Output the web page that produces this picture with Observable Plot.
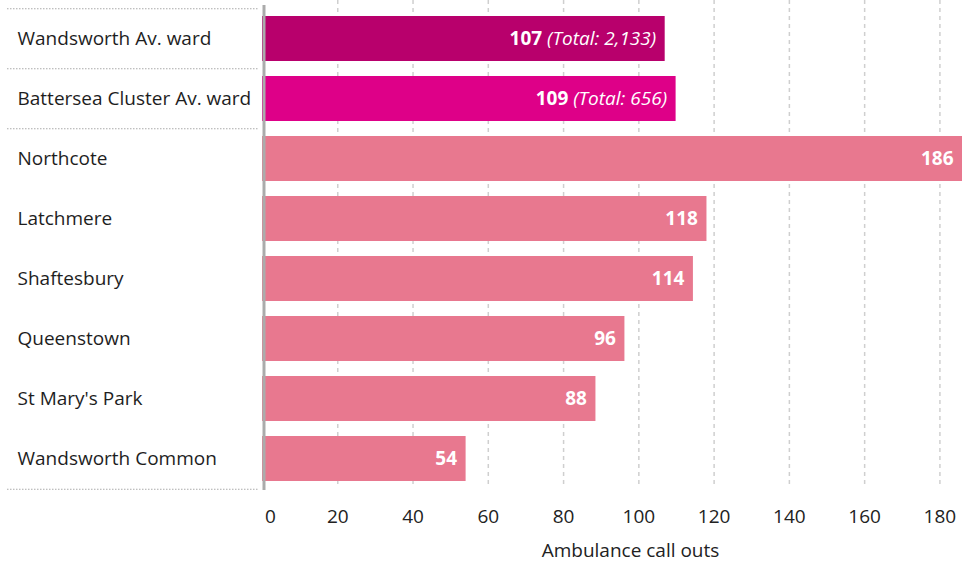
<!DOCTYPE html>
<html>
<head>
<meta charset="utf-8">
<script src="https://cdn.jsdelivr.net/npm/d3@7"></script>
<script src="https://cdn.jsdelivr.net/npm/@observablehq/plot@0.6"></script>
<style>
  html, body { margin: 0; padding: 0; background: #fff; }
  #chart svg { display: block; }
</style>
</head>
<body>
<div id="chart"></div>
<script>
const categories = ["Wandsworth Av. ward", "Battersea Cluster Av. ward", "Northcote", "Latchmere", "Shaftesbury", "Queenstown", "St Mary's Park", "Wandsworth Common"];
const values = [107.0, 109.9, 186.0, 118.1, 114.5, 96.3, 88.6, 54.1];
const shown = [107, 109, 186, 118, 114, 96, 88, 54];
const totals = [2133, 656, null, null, null, null, null, null];
const kinds = ["wandsworth", "battersea", "ward", "ward", "ward", "ward", "ward", "ward"];
const xTicks = [0, 20, 40, 60, 80, 100, 120, 140, 160, 180];
const axisTitle = "Ambulance call outs";

const data = categories.map((c, i) => ({
  name: c, value: values[i], total: totals[i], kind: kinds[i],
  label: totals[i] != null ? `${shown[i]} (Total: ${d3.format(",")(totals[i])})` : `${shown[i]}`
}));

const FONT = "'Open Sans', sans-serif";
const step = (490 - 6) / categories.length;

const chart = Plot.plot({
  width: 962,
  height: 563,
  marginLeft: 262,
  marginRight: 0,
  marginTop: 6,
  marginBottom: 73,
  style: { fontFamily: FONT, fontSize: "19px", color: "#222", background: "#fff" },
  x: { domain: [0, 186], axis: null },
  y: { domain: categories, axis: null, paddingInner: 0.25, paddingOuter: 0.125 },
  color: { domain: ["wandsworth", "battersea", "ward"], range: ["#b8006c", "#de0088", "#e8788f"] },
  marks: [
    Plot.ruleX(xTicks.slice(1), { stroke: "#cfcfcf", strokeWidth: 1.5, strokeDasharray: "4,4", insetTop: -6, insetBottom: 2 }),
    Plot.barX(data, { y: "name", x: "value", fill: "kind" }),
    Plot.ruleX([0], { stroke: "#ababab", strokeWidth: 3, dx: 1.5, insetTop: -1 }),
    Plot.ruleY([categories[0], categories[1], categories[2]], { y: d => d, dy: -step / 2, stroke: "#aaa", strokeDasharray: "1.5,1.5", insetLeft: -255, insetRight: 704 }),
    Plot.ruleY([categories[categories.length - 1]], { y: d => d, dy: step / 2, stroke: "#aaa", strokeDasharray: "1.5,1.5", insetLeft: -255, insetRight: 704 }),
    Plot.text(data, { y: "name", text: "name", frameAnchor: "left", textAnchor: "start", dx: -245, fill: "#1e1e1e", fontSize: 19 }),
    Plot.text(data, { y: "name", x: "value", text: "label", textAnchor: "end", dx: -9, fill: "#fff", fontWeight: "bold", fontSize: 19, className: "vlabel" }),
    Plot.axisX(xTicks.slice(1), { tickSize: 0, tickPadding: 19, label: null, fontSize: 19, fill: "#222" }),
    Plot.axisX([0], { tickSize: 0, tickPadding: 19, label: null, fontSize: 19, dx: 8, fill: "#222" }),
    Plot.text([axisTitle], { frameAnchor: "bottom", lineAnchor: "middle", dx: 18, dy: 60, fontSize: 19, fill: "#222" })
  ]
});

// split value labels into bold value and italic total
d3.select(chart).selectAll("g.vlabel text").each(function () {
  const t = this.textContent;
  const k = t.indexOf(" ");
  if (k < 0) return;
  const sel = d3.select(this);
  sel.text(null);
  sel.append("tspan").text(t.slice(0, k));
  sel.append("tspan").attr("font-weight", "normal").attr("font-style", "italic").text(t.slice(k));
});

document.getElementById("chart").appendChild(chart);
</script>
</body>
</html>
